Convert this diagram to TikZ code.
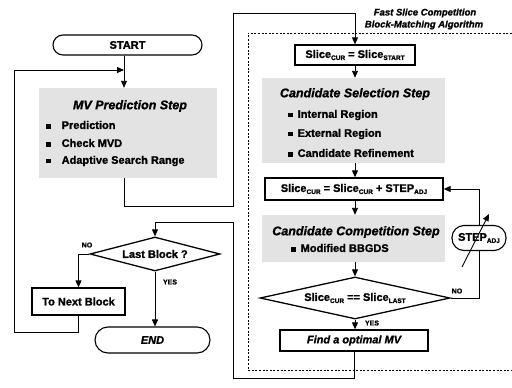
\documentclass[tikz,border=0pt]{standalone}
\usepackage{fontspec}
\setmainfont{Liberation Sans}[BoldFeatures={FakeBold=1.3},BoldItalicFeatures={FakeBold=1.3}]
\usetikzlibrary{arrows.meta,shapes.geometric}

% small lowered index text, e.g. Slice_CUR
\newcommand\lowtxt[1]{\raisebox{-0.35ex}{\fontsize{6.5}{7}\selectfont #1}}
% square list bullet followed by a gap
\newcommand\blt[1]{\rule[0.4pt]{4.5pt}{4.5pt}\hspace{#1}}

\tikzset{
  flow/.style={line width=0.9pt, -{Triangle[length=7pt,width=6pt]}},
  plain/.style={line width=0.9pt},
  procbox/.style={draw, line width=1.3pt, rectangle, inner sep=0pt,
    font=\fontsize{11}{13}\selectfont\bfseries},
  pill/.style={draw, line width=1.1pt, rectangle, inner sep=0pt,
    font=\fontsize{11}{13}\selectfont\bfseries},
  decide/.style={draw, line width=1.3pt, diamond, aspect=4, inner sep=0pt,
    font=\fontsize{11}{13}\selectfont\bfseries},
  shade/.style={fill=black!11, inner sep=0pt},
  steptitle/.style={inner sep=0pt, font=\fontsize{12.5}{14}\selectfont\bfseries\itshape},
  item/.style={inner sep=0pt, anchor=west, font=\fontsize{11}{13}\selectfont\bfseries},
  tag/.style={inner sep=0pt, font=\fontsize{7}{8}\selectfont\bfseries},
  hdr/.style={inner sep=0pt, font=\fontsize{9.5}{11}\selectfont\bfseries\itshape},
  frame/.style={line width=0.6pt, dash pattern=on 2pt off 1.6pt},
}

\begin{document}
\begin{tikzpicture}[x=1pt, y=-1pt]
\useasboundingbox (0,0) rectangle (512,388);

% columns of the two flow spines
\coordinate (lx) at (124,0);
\coordinate (rx) at (355,0);

% ---------- outer loop ----------
\node[pill, rounded corners=10pt, minimum width=149pt, minimum height=20pt] (start) at (127.5,45) {START};

\node[shade, minimum width=178pt, minimum height=90pt] (mv) at (128,133) {};
\node[steptitle] (mvt) at (130,106) {MV Prediction Step};
\node[item] (mv1) at (46,125) {\blt{11pt}Prediction};
\node[item] (mv2) at (46,143) {\blt{11pt}Check MVD};
\node[item] (mv3) at (46,161) {\blt{11pt}Adaptive Search Range};

\node[decide, minimum width=130pt, minimum height=34pt] (lb) at (155,254) {Last Block ?};
\node[procbox, minimum width=93pt, minimum height=27pt] (nxt) at (78.5,301.5) {To Next Block};
\node[pill, rounded corners=13pt, minimum width=115pt, minimum height=26pt,
      font=\fontsize{11}{13}\selectfont\bfseries\itshape] (endn) at (152.5,340) {END};

\node[tag] (lno) at (87,245) {NO};
\node[tag] (lyes) at (170,282) {YES};

% ---------- fast slice competition block-matching ----------
\draw[frame] (512,33) -- (248,33) -- (248,370) -- (512,370);
\node[hdr] (h1) at (425,13) {Fast Slice Competition};
\node[hdr] (h2) at (424,25) {Block-Matching Algorithm};

\node[procbox, minimum width=120pt, minimum height=20pt] (s0) at (355,55)
  {Slice\lowtxt{CUR} = Slice\lowtxt{START}};

\node[shade, minimum width=183pt, minimum height=85pt] (cs) at (353.5,120.5) {};
\node[steptitle] (cst) at (355,94) {Candidate Selection Step};
\node[item] (cs1) at (288,115) {\blt{5pt}Internal Region};
\node[item] (cs2) at (288,134) {\blt{5pt}External Region};
\node[item] (cs3) at (288,153) {\blt{5pt}Candidate Refinement};

\node[procbox, minimum width=178pt, minimum height=22pt] (s1) at (354,189)
  {Slice\lowtxt{CUR} = Slice\lowtxt{CUR} + STEP\lowtxt{ADJ}};

\node[shade, minimum width=183pt, minimum height=47pt] (cc) at (353.5,238.5) {};
\node[steptitle] (cct) at (356,232) {Candidate Competition Step};
\node[item] (cc1) at (291,248) {\blt{5pt}Modified BBGDS};

\node[decide, minimum width=190pt, minimum height=42pt] (dec) at (355,298)
  {Slice\lowtxt{CUR} == Slice\lowtxt{LAST}};
\node[procbox, minimum width=148pt, minimum height=21pt,
      font=\fontsize{11}{13}\selectfont\bfseries\itshape] (fin) at (354,340.5) {Find a optimal MV};

\node[pill, rounded corners=12pt, minimum width=54pt, minimum height=25pt] (stp) at (479,238)
  {STEP\lowtxt{ADJ}};

\node[tag] (rno) at (457,291) {NO};
\node[tag] (ryes) at (372,323) {YES};

% ---------- connectors ----------
\coordinate (loopB) at (14,332);
\coordinate (loopT) at (14,70);
\coordinate (bendA) at (233,206);
\coordinate (topA) at (233,13);
\coordinate (botR) at (233,378);
\coordinate (midL) at (233,222);
\coordinate (dg0) at (462,267);
\coordinate (dg1) at (489,214);

\draw[flow] (start.south -| lx) -- (mv.north -| lx);
\draw[flow] (mv.south -| lx) |- (bendA) -- (topA) -| (s0.north);
\draw[flow] (s0.south) -- (cs.north -| rx);
\draw[flow] (cs.south -| rx) -- (s1.north -| rx);
\draw[flow] (s1.south -| rx) -- (cc.north -| rx);
\draw[flow] (cc.south -| rx) -- (dec.north);
\draw[flow] (dec.south) -- (fin.north -| dec.south);
\draw[plain] (dec.east) -| (stp.south);
\draw[flow] (stp.north) |- (s1.east);
\draw[flow] (dg0) -- (dg1);
\draw[flow] (fin.south) |- (botR) -- (midL) -| (lb.north);
\draw[flow] (lb.west) -| (nxt.north);
\draw[flow] (lb.south) -- (lb.south |- endn.north);
\draw[flow] (nxt.south) |- (loopB) -- (loopT) -- (loopT -| lx);
\end{tikzpicture}
\end{document}
